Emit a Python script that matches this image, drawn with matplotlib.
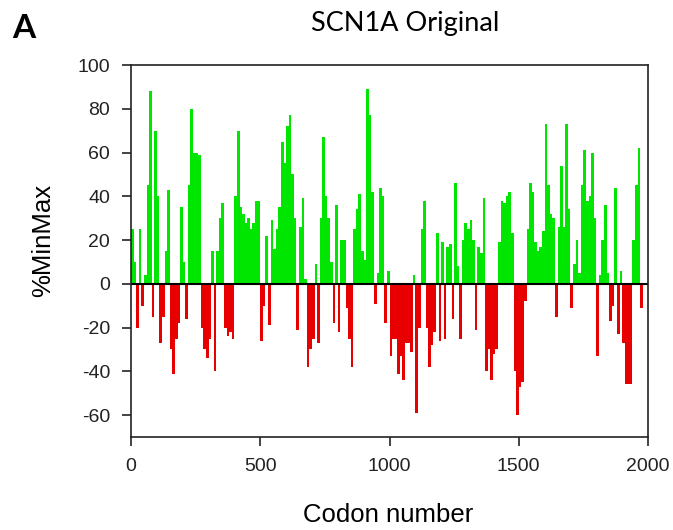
import matplotlib
matplotlib.use('Agg')
import matplotlib.pyplot as plt
import numpy as np

# %MinMax, one value per 10-codon window
bin_size = 10
minmax = [
    25, 10, -20, 25, -10, 4, 45, 88, -15, 70,          # 0-100
    40, -27, -15, 15, 43, -30, -41, -25, -18, 35,      # 100-200
    10, -16, 45, 80, 60, 60, 59, -20, -30, -34,        # 200-300
    -25, 15, -40, 15, 30, 37, -20, -24, -22, -25,      # 300-400
    40, 70, 35, 32, 28, 30, 25, 28, 38, 38,            # 400-500
    -26, -10, 22, -19, 29, 16, 25, 35, 65, 55,         # 500-600
    72, 77, 50, 30, -21, 26, 39, 2, -38, -30,          # 600-700
    -25, 9, -27, 30, 67, 40, 30, 10, -18, 36,          # 700-800
    -22, 20, 20, -11, -25, -38, 25, 34, 41, 15,        # 800-900
    11, 89, 77, 42, -9, 5, 44, 40, -18, 6,             # 900-1000
    -33, -25, -25, -41, -33, -44, -27, -27, -31, 4,    # 1000-1100
    -59, -20, 25, 38, -20, -38, -28, -22, 23, -26,     # 1100-1200
    19, -25, 17, 18, -16, 46, 8, -25, 20, 28,          # 1200-1300
    25, 29, 20, -21, 17, 14, 39, -40, -30, -44,        # 1300-1400
    -32, -30, 19, 38, 37, 40, 42, 23, -40, -60,        # 1400-1500
    -47, -45, -8, 25, 46, 42, 19, 15, 17, 24,          # 1500-1600
    73, 45, 32, 30, -15, 26, 54, 26, 73, 34,           # 1600-1700
    -11, 9, 20, 5, 45, 61, 38, 40, 60, 30,             # 1700-1800
    -33, 4, 20, 36, 5, -17, -10, 44, -23, 6,           # 1800-1900
    -27, -46, -46, -46, 20, 45, 62, -11,               # 1900-1980
]

x_ticks = [0, 500, 1000, 1500, 2000]
y_ticks = [-60, -40, -20, 0, 20, 40, 60, 80, 100]

values = np.array(minmax, dtype=float)
codons = np.arange(len(values)) * bin_size
colors = np.where(values >= 0, '#00e600', '#e80000')

fig = plt.figure(figsize=(6.73, 5.30), dpi=100)
ax = fig.add_axes([131 / 673, 1 - 437 / 530, 517 / 673, 372 / 530])

ax.bar(codons, values, width=bin_size, align='edge', color=colors, linewidth=0)
ax.axhline(0, color='black', linewidth=1.5)

ax.set_xlim(0, 2000)
ax.set_ylim(-70, 100)
ax.set_xticks(x_ticks)
ax.set_yticks(y_ticks)

tick_font = {'family': 'Liberation Sans', 'size': 14}
ax.set_xticklabels([str(t) for t in x_ticks], fontdict=tick_font)
ax.set_yticklabels([str(t) for t in y_ticks], fontdict=tick_font)
ax.tick_params(direction='out', length=6.5, width=1.2, pad=8.5, colors='#222222')
for s in ax.spines.values():
    s.set_linewidth(1.2)
    s.set_color('#222222')

fig.text(43 / 673, 1 - 240 / 530, '%MinMax', rotation=90, ha='center', va='center',
         family='Liberation Sans', fontsize=18.5)
fig.text(388 / 673, 1 - 515 / 530, 'Codon number', ha='center', va='center',
         family='Liberation Sans', fontsize=18.5)
fig.text(405 / 673, 1 - 24 / 530, 'SCN1A Original', ha='center', va='center',
         family='Lato', fontsize=19.5)
fig.text(24 / 673, 1 - 28 / 530, 'A', ha='center', va='center',
         family='Lato', fontweight='bold', fontsize=24)

fig.savefig('out.png', dpi=100)
